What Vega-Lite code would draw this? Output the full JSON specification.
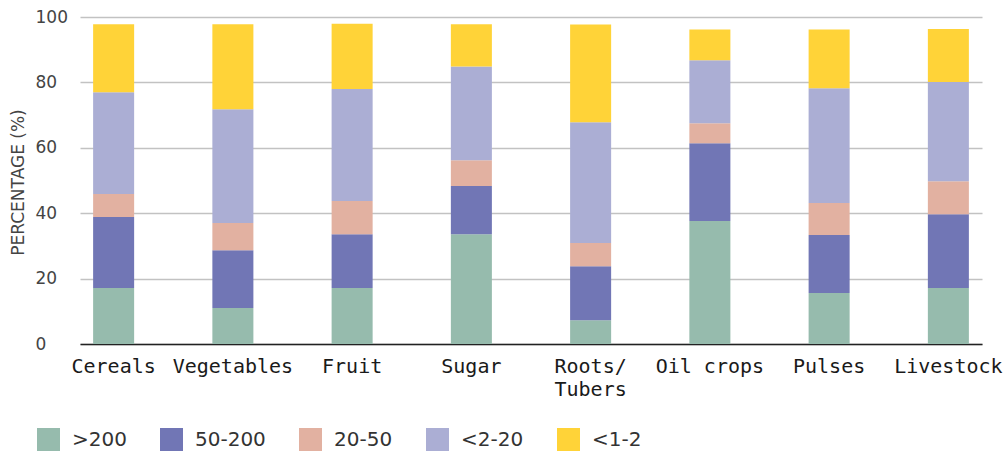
{
  "$schema": "https://vega.github.io/schema/vega-lite/v6.json",
  "width": 902,
  "height": 327,
  "autosize": {"type": "none"},
  "padding": {"left": 80, "top": 17, "right": 25, "bottom": 112},
  "background": "white",
  "config": {"view": {"stroke": null}},
  "data": {"values": [
    {"crop": "Cereals", "size": ">200", "rank": 1, "pct": 17.1},
    {"crop": "Cereals", "size": "50-200", "rank": 2, "pct": 21.7},
    {"crop": "Cereals", "size": "20-50", "rank": 3, "pct": 7.1},
    {"crop": "Cereals", "size": "<2-20", "rank": 4, "pct": 31.1},
    {"crop": "Cereals", "size": "<1-2", "rank": 5, "pct": 20.8},
    {"crop": "Vegetables", "size": ">200", "rank": 1, "pct": 11.0},
    {"crop": "Vegetables", "size": "50-200", "rank": 2, "pct": 17.7},
    {"crop": "Vegetables", "size": "20-50", "rank": 3, "pct": 8.3},
    {"crop": "Vegetables", "size": "<2-20", "rank": 4, "pct": 34.8},
    {"crop": "Vegetables", "size": "<1-2", "rank": 5, "pct": 26.0},
    {"crop": "Fruit", "size": ">200", "rank": 1, "pct": 17.1},
    {"crop": "Fruit", "size": "50-200", "rank": 2, "pct": 16.5},
    {"crop": "Fruit", "size": "20-50", "rank": 3, "pct": 10.1},
    {"crop": "Fruit", "size": "<2-20", "rank": 4, "pct": 34.3},
    {"crop": "Fruit", "size": "<1-2", "rank": 5, "pct": 19.9},
    {"crop": "Sugar", "size": ">200", "rank": 1, "pct": 33.6},
    {"crop": "Sugar", "size": "50-200", "rank": 2, "pct": 14.7},
    {"crop": "Sugar", "size": "20-50", "rank": 3, "pct": 7.9},
    {"crop": "Sugar", "size": "<2-20", "rank": 4, "pct": 28.7},
    {"crop": "Sugar", "size": "<1-2", "rank": 5, "pct": 12.9},
    {"crop": "Roots/Tubers", "size": ">200", "rank": 1, "pct": 7.3},
    {"crop": "Roots/Tubers", "size": "50-200", "rank": 2, "pct": 16.5},
    {"crop": "Roots/Tubers", "size": "20-50", "rank": 3, "pct": 7.1},
    {"crop": "Roots/Tubers", "size": "<2-20", "rank": 4, "pct": 36.9},
    {"crop": "Roots/Tubers", "size": "<1-2", "rank": 5, "pct": 29.9},
    {"crop": "Oil crops", "size": ">200", "rank": 1, "pct": 37.6},
    {"crop": "Oil crops", "size": "50-200", "rank": 2, "pct": 23.8},
    {"crop": "Oil crops", "size": "20-50", "rank": 3, "pct": 6.1},
    {"crop": "Oil crops", "size": "<2-20", "rank": 4, "pct": 19.3},
    {"crop": "Oil crops", "size": "<1-2", "rank": 5, "pct": 9.4},
    {"crop": "Pulses", "size": ">200", "rank": 1, "pct": 15.6},
    {"crop": "Pulses", "size": "50-200", "rank": 2, "pct": 17.7},
    {"crop": "Pulses", "size": "20-50", "rank": 3, "pct": 9.8},
    {"crop": "Pulses", "size": "<2-20", "rank": 4, "pct": 35.1},
    {"crop": "Pulses", "size": "<1-2", "rank": 5, "pct": 18.0},
    {"crop": "Livestock", "size": ">200", "rank": 1, "pct": 17.1},
    {"crop": "Livestock", "size": "50-200", "rank": 2, "pct": 22.6},
    {"crop": "Livestock", "size": "20-50", "rank": 3, "pct": 10.1},
    {"crop": "Livestock", "size": "<2-20", "rank": 4, "pct": 30.3},
    {"crop": "Livestock", "size": "<1-2", "rank": 5, "pct": 16.2}
  ]},
  "mark": {"type": "bar"},
  "encoding": {
    "x": {
      "field": "crop",
      "type": "nominal",
      "sort": ["Cereals", "Vegetables", "Fruit", "Sugar", "Roots/Tubers", "Oil crops", "Pulses", "Livestock"],
      "scale": {"paddingInner": 0.656, "paddingOuter": 0.11},
      "axis": {
        "title": null,
        "labelAngle": 0,
        "labelFont": "DejaVu Sans Mono",
        "labelFontSize": 20,
        "labelColor": "#1a1a1a",
        "labelPadding": 12,
        "labelBaseline": "top",
        "labelLineHeight": 23,
        "labelExpr": "datum.value == 'Roots/Tubers' ? ['Roots/', 'Tubers'] : datum.value",
        "ticks": false,
        "domain": true,
        "domainColor": "#222222",
        "domainWidth": 1.5,
        "grid": false
      }
    },
    "y": {
      "field": "pct",
      "type": "quantitative",
      "stack": "zero",
      "scale": {"domain": [0, 100], "nice": false},
      "axis": {
        "title": "PERCENTAGE (%)",
        "titleFont": "DejaVu Sans",
        "titleFontSize": 17,
        "titleFontWeight": "normal",
        "titleColor": "#444444",
        "titleAngle": -90,
        "titleX": -62,
        "titleY": 165,
        "titleAlign": "center",
        "titleBaseline": "middle",
        "values": [0, 20, 40, 60, 80, 100],
        "labelFont": "DejaVu Sans",
        "labelFontSize": 17,
        "labelColor": "#444444",
        "labelAlign": "left",
        "labelBaseline": "middle",
        "labelPadding": 45,
        "ticks": false,
        "domain": false,
        "grid": true,
        "gridColor": "#c2c2c2",
        "gridWidth": 1.5
      }
    },
    "order": {"field": "rank", "type": "quantitative", "sort": "ascending"},
    "color": {
      "field": "size",
      "type": "nominal",
      "sort": [">200", "50-200", "20-50", "<2-20", "<1-2"],
      "scale": {
        "domain": [">200", "50-200", "20-50", "<2-20", "<1-2"],
        "range": ["#96bbad", "#7176b5", "#e2b1a1", "#abaed4", "#ffd338"]
      },
      "legend": {
        "title": null,
        "orient": "none",
        "direction": "horizontal",
        "legendX": -43,
        "legendY": 411,
        "symbolType": "square",
        "symbolSize": 529,
        "symbolStrokeWidth": 0,
        "symbolOpacity": 1,
        "labelFont": "DejaVu Sans",
        "labelFontSize": 20,
        "labelColor": "#333333",
        "labelOffset": 12,
        "columnPadding": 33
      }
    }
  }
}
